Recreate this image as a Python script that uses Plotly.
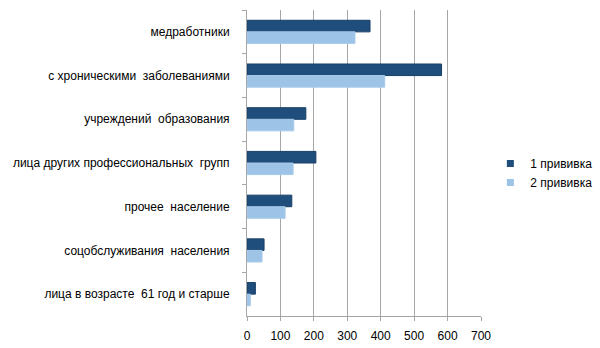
import plotly.graph_objects as go

# Vaccination counts by population group
categories = [
    "медработники",
    "с хроническими  заболеваниями",
    "учреждений  образования",
    "лица других профессиональных  групп",
    "прочее  население",
    "соцобслуживания  населения",
    "лица в возрасте  61 год и старше",
]
dose1 = [368, 582, 176, 206, 134, 51, 25]
dose2 = [323, 412, 140, 138, 114, 45, 10]
series_names = ["1 прививка", "2 прививка"]
x_ticks = [0, 100, 200, 300, 400, 500, 600, 700]

font_family = "Liberation Sans, Arial, sans-serif"
fill_colors = ["#1F4E7C", "#9DC3E6"]
edge_colors = ["#183F66", "#A8CBEA"]

fig = go.Figure()
for name, values, fill, edge in zip(series_names, [dose1, dose2], fill_colors, edge_colors):
    fig.add_trace(go.Bar(
        y=categories, x=values, name=name, orientation="h",
        marker=dict(color=fill, line=dict(color=edge, width=1)),
        legendgroup=name, showlegend=False,
    ))

# Small square legend keys
for name, fill in zip(series_names, fill_colors):
    fig.add_trace(go.Scatter(
        x=[None], y=[None], mode="markers", name=name,
        marker=dict(symbol="square", size=7, color=fill),
        legendgroup=name, showlegend=True,
    ))

fig.update_layout(
    width=600, height=348,
    margin=dict(l=247, r=119, t=10, b=32, autoexpand=False),
    paper_bgcolor="white", plot_bgcolor="white",
    barmode="group", bargap=0.47, bargroupgap=0,
    font=dict(family=font_family, size=12, color="#000000"),
    legend=dict(
        x=1.04, xanchor="left", y=0.467, yanchor="middle",
        traceorder="normal", font=dict(size=12),
        itemwidth=30, tracegroupgap=9,
    ),
    showlegend=True,
)
fig.update_xaxes(
    range=[0, 700], tickvals=x_ticks, ticktext=[str(v) for v in x_ticks],
    showgrid=True, gridcolor="#A6A6A6", gridwidth=1,
    showline=True, linecolor="#A6A6A6", linewidth=1,
    ticks="outside", ticklen=4, tickcolor="#A6A6A6",
    zeroline=False, tickfont=dict(size=12), ticklabelstandoff=5,
    fixedrange=True,
)
fig.update_yaxes(
    autorange="reversed",
    showline=True, linecolor="#A6A6A6", linewidth=1,
    ticks="outside", ticklen=4, tickcolor="#A6A6A6",
    tickson="boundaries", showgrid=False,
    ticklabelstandoff=14, tickfont=dict(size=12),
    fixedrange=True,
)

fig.write_html("out.html")
